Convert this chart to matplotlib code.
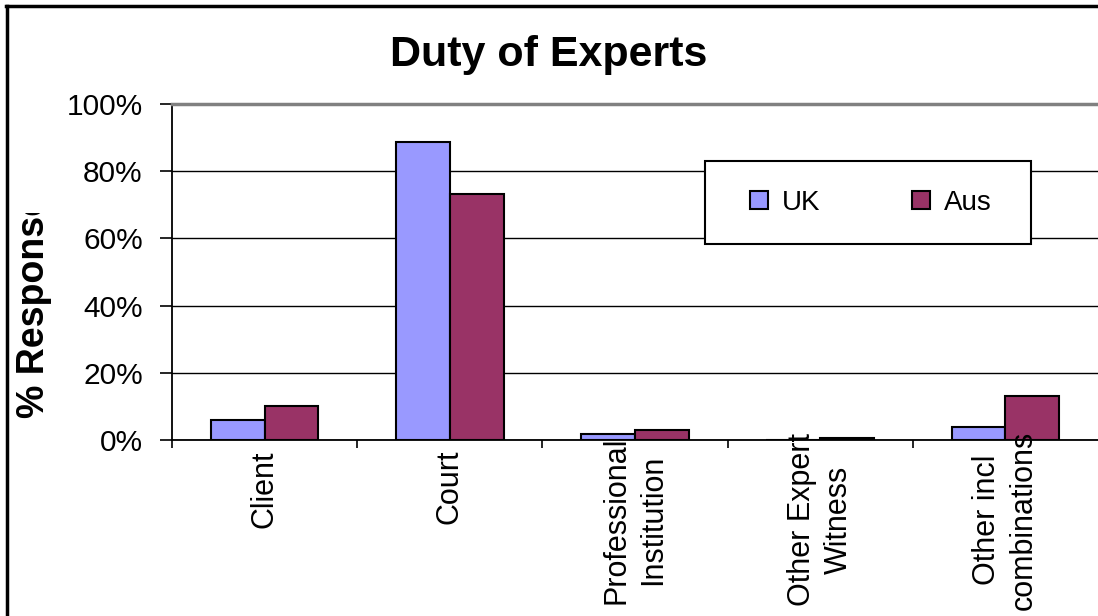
import numpy as np
import matplotlib
matplotlib.use("Agg")
from matplotlib import pyplot as plt
from matplotlib.patches import Rectangle
from matplotlib.lines import Line2D
from matplotlib.transforms import Bbox, TransformedBbox

categories = ["Client", "Court", "Professional\nInstitution",
              "Other Expert\nWitness", "Other incl\ncombinations"]
series_names = ["UK", "Aus"]
uk = [6.0, 88.7, 1.9, 0.0, 3.9]
aus = [10.0, 73.2, 3.0, 0.6, 13.1]
yticks = [0, 20, 40, 60, 80, 100]

plt.rcParams['font.family'] = ['Liberation Sans', 'DejaVu Sans']

fig = plt.figure(figsize=(10.98, 6.16), dpi=100)
ax = fig.add_axes([172 / 1098, 1 - 440 / 616, 926 / 1098, 336 / 616])

x = np.arange(len(categories))
w = 0.29
ax.bar(x - w / 2, uk, w, color="#9999FF", edgecolor="black", linewidth=1.5,
       label=series_names[0], zorder=2)
ax.bar(x + w / 2, aus, w, color="#993366", edgecolor="black", linewidth=1.5,
       label=series_names[1], zorder=2)

ax.set_xlim(-0.5, len(categories) - 0.5)
ax.set_ylim(0, 100)
ax.set_yticks(yticks)
ax.set_yticklabels([f"{t}%" for t in yticks], fontsize=21.5)
ax.tick_params(axis="y", direction="out", length=9, width=1.2, pad=12)
ax.set_xticks(x)
ax.set_xticklabels([])
ax.tick_params(axis="x", which="major", length=0)
ax.set_xticks(np.arange(len(categories)) - 0.5, minor=True)
ax.tick_params(axis="x", which="minor", direction="out", length=6, width=1.2)

ax.grid(axis="y", color="black", linewidth=1.0, zorder=0)
ax.set_axisbelow(True)
ax.spines["right"].set_visible(False)
ax.spines["top"].set_color("#808080")
ax.spines["top"].set_linewidth(2.5)
ax.spines["left"].set_linewidth(1.3)
ax.spines["bottom"].set_linewidth(1.3)

# category labels, rotated, clipped at the top like the original
clip = TransformedBbox(Bbox.from_extents(0, 0, 1, 1 - 431 / 616), fig.transFigure)
for xi, lab in zip(x, categories):
    if "\n" in lab:
        t = ax.annotate(lab, (xi, 616 - 520), xycoords=("data", "figure pixels"),
                        rotation=90, ha="center", va="center",
                        multialignment="center", fontsize=22,
                        linespacing=1.3, annotation_clip=False)
    else:
        t = ax.annotate(lab, (xi, 616 - 450), xycoords=("data", "figure pixels"),
                        rotation=90, ha="center", va="top", fontsize=22,
                        annotation_clip=False)
    t.set_clip_box(clip)
    t.set_clip_on(True)

# legend box
ax.add_patch(Rectangle((0.576, 0.583), 0.352, 0.247, transform=ax.transAxes,
                       facecolor="white", edgecolor="black", linewidth=1.5,
                       zorder=3))
leg = ax.legend(loc="center", bbox_to_anchor=(0.755, 0.706), ncol=2,
                frameon=False, fontsize=20, handlelength=0.65,
                handleheight=0.65, handletextpad=0.5, columnspacing=3.3)
leg.set_zorder(4)

fig.text(0.5, 1 - 55 / 616, "Duty of Experts", ha="center", va="center",
         fontsize=31, fontweight="bold")

yl = fig.text(34 / 1098, (616 - 418) / 616, "% Response", rotation=90,
              ha="center", va="bottom", fontsize=27, fontweight="bold")
yl.set_clip_box(TransformedBbox(Bbox.from_extents(0, 0, 1, 1 - 213 / 616),
                                fig.transFigure))
yl.set_clip_on(True)

# outer chart border (right and bottom edges fall outside the image)
fig.add_artist(Line2D([6.5 / 1098, 6.5 / 1098], [0, 1 - 5.5 / 616],
                      transform=fig.transFigure, color="black", linewidth=2.5))
fig.add_artist(Line2D([5.5 / 1098, 1], [1 - 5.5 / 616, 1 - 5.5 / 616],
                      transform=fig.transFigure, color="black", linewidth=2.5))

fig.savefig("out.png", dpi=100)
